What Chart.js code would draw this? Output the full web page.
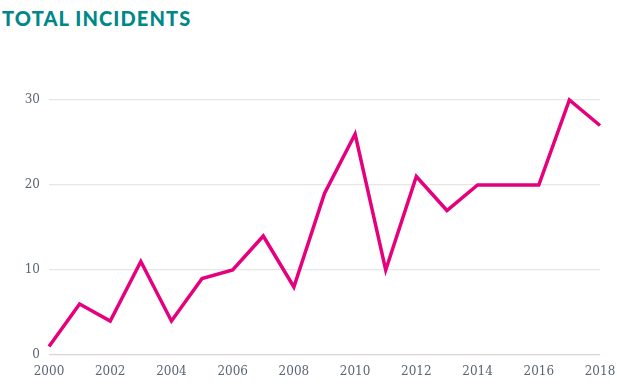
<!DOCTYPE html>
<html>
<head>
<meta charset="utf-8">
<script src="https://cdn.jsdelivr.net/npm/chart.js@4"></script>
<style>
  html, body { margin: 0; padding: 0; background: #ffffff; }
  #wrap { position: relative; width: 617px; height: 385px; }
  #title { position: absolute; left: 2px; top: 6px; font-family: Lato, "Open Sans", sans-serif; font-weight: 900; font-size: 20px; letter-spacing: 1.1px; color: #00878a; }
  canvas { position: absolute; left: 0; top: 0; }
</style>
</head>
<body>
<div id="wrap">
  <div id="title">TOTAL INCIDENTS</div>
  <canvas id="c" width="617" height="385"></canvas>
</div>
<script>
const years = [2000,2001,2002,2003,2004,2005,2006,2007,2008,2009,2010,2011,2012,2013,2014,2015,2016,2017,2018];
const incidents = [1,6,4,11,4,9,10,14,8,19,26,10,21,17,20,20,20,30,27];
const yTicks = [0,10,20,30];
const xTicks = [2000,2002,2004,2006,2008,2010,2012,2014,2016,2018];

const tickFont = { family: "'DejaVu Serif', 'Liberation Serif', serif", size: 12 };
const tickColor = '#5b6573';

new Chart(document.getElementById('c'), {
  type: 'line',
  data: {
    datasets: [{
      data: years.map((y, i) => ({ x: y, y: incidents[i] })),
      borderColor: '#e5007d',
      borderWidth: 3.5,
      pointRadius: 0,
      tension: 0,
      borderJoinStyle: 'miter',
      clip: false
    }]
  },
  options: {
    responsive: false,
    animation: false,
    layout: { padding: { top: 100, right: 17, left: 0, bottom: 0 } },
    plugins: { legend: { display: false }, tooltip: { enabled: false } },
    scales: {
      x: {
        type: 'linear',
        min: 2000, max: 2018,
        afterBuildTicks: s => { s.ticks = xTicks.map(v => ({ value: v })); },
        grid: { display: false, drawTicks: false },
        border: { display: false },
        ticks: { font: tickFont, color: tickColor, padding: 10, maxRotation: 0, autoSkip: false, callback: v => String(v) },
        afterFit: s => { s.height = 30; s.paddingRight = 0; s.paddingLeft = 0; }
      },
      y: {
        min: 0, max: 30,
        afterBuildTicks: s => { s.ticks = yTicks.map(v => ({ value: v })); },
        grid: { color: ctx => ctx.tick && ctx.tick.value === 0 ? '#d6d6d6' : '#e6e6e6', lineWidth: 1.2, drawTicks: false },
        border: { display: false },
        ticks: { font: tickFont, color: tickColor, padding: 9 },
        afterFit: s => { s.width = 49; s.paddingTop = 0; s.paddingBottom = 0; }
      }
    }
  }
});
</script>
</body>
</html>
